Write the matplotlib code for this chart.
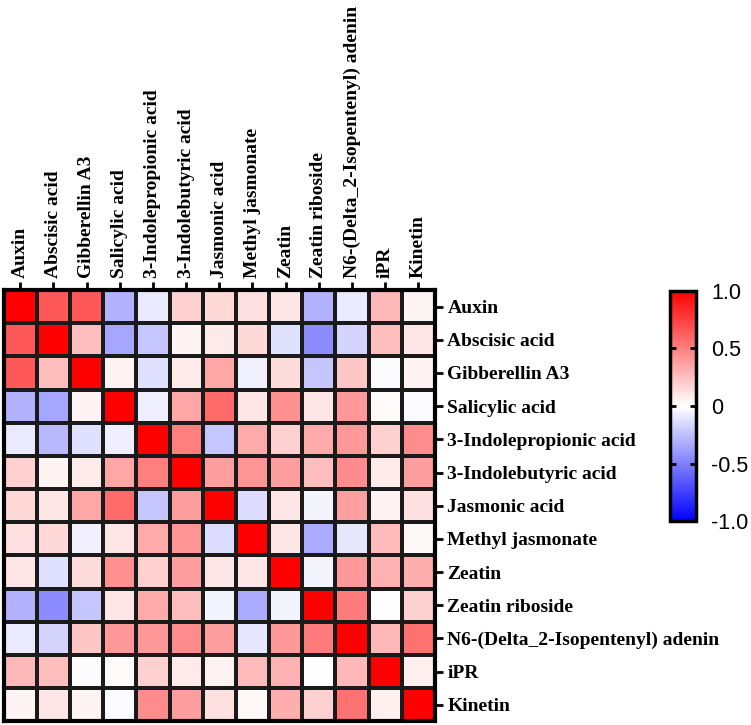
import numpy as np
import matplotlib
matplotlib.use("Agg")
import matplotlib.pyplot as plt
from matplotlib.colors import LinearSegmentedColormap

labels = ["Auxin", "Abscisic acid", "Gibberellin A3", "Salicylic acid",
          "3-Indolepropionic acid", "3-Indolebutyric acid", "Jasmonic acid",
          "Methyl jasmonate", "Zeatin", "Zeatin riboside",
          "N6-(Delta_2-Isopentenyl) adenin", "iPR", "Kinetin"]

corr = [
    [1.00, 0.65, 0.65, -0.30, -0.08, 0.18, 0.15, 0.12, 0.10, -0.30, -0.08, 0.28, 0.04],
    [0.65, 1.00, 0.25, -0.35, -0.22, 0.04, 0.08, 0.15, -0.12, -0.45, -0.17, 0.25, 0.10],
    [0.65, 0.25, 1.00, 0.05, -0.12, 0.08, 0.35, -0.06, 0.14, -0.22, 0.22, -0.01, 0.04],
    [-0.30, -0.35, 0.05, 1.00, -0.07, 0.35, 0.58, 0.10, 0.43, 0.10, 0.40, 0.02, -0.02],
    [-0.08, -0.28, -0.12, -0.07, 1.00, 0.50, -0.22, 0.33, 0.18, 0.33, 0.40, 0.18, 0.45],
    [0.18, 0.04, 0.08, 0.35, 0.50, 1.00, 0.38, 0.42, 0.38, 0.25, 0.45, 0.08, 0.38],
    [0.15, 0.10, 0.35, 0.58, -0.22, 0.38, 1.00, -0.14, 0.10, -0.04, 0.38, 0.05, 0.12],
    [0.12, 0.15, -0.06, 0.10, 0.33, 0.42, -0.14, 1.00, 0.10, -0.33, -0.10, 0.27, 0.03],
    [0.10, -0.12, 0.14, 0.43, 0.18, 0.38, 0.10, 0.10, 1.00, -0.04, 0.40, 0.30, 0.32],
    [-0.30, -0.45, -0.22, 0.10, 0.33, 0.25, -0.04, -0.33, -0.04, 1.00, 0.52, 0.00, 0.18],
    [-0.08, -0.17, 0.22, 0.40, 0.40, 0.45, 0.38, -0.10, 0.40, 0.52, 1.00, 0.28, 0.55],
    [0.28, 0.25, -0.01, 0.02, 0.18, 0.08, 0.05, 0.27, 0.30, 0.00, 0.28, 1.00, 0.06],
    [0.04, 0.10, 0.04, -0.02, 0.45, 0.38, 0.12, 0.03, 0.32, 0.18, 0.55, 0.06, 1.00],
]
cbar_ticks = [1.0, 0.5, 0, -0.5, -1.0]
cbar_ticklabels = ["1.0", "0.5", "0", "-0.5", "-1.0"]

data = np.array(corr)
n = len(labels)
cmap = LinearSegmentedColormap.from_list("bwr2", ["#0000FF", "#FFFFFF", "#FF0000"])

fig = plt.figure(figsize=(7.51, 7.25), dpi=100)
ax = fig.add_axes([0.005, 0.005, 0.574, 0.595])
mesh = ax.pcolormesh(np.arange(n + 1), np.arange(n + 1), data, cmap=cmap,
                     vmin=-1, vmax=1, edgecolors="#1a1a1a", linewidth=1.5)
ax.set_xlim(0, n)
ax.set_ylim(n, 0)
ax.set_xticks(np.arange(n) + 0.5)
ax.set_yticks(np.arange(n) + 0.5)
ax.xaxis.tick_top()
ax.yaxis.tick_right()
font = dict(family="Liberation Serif", weight="bold", size=14)
ax.set_xticklabels(labels, rotation=90, fontdict=font)
ax.set_yticklabels(labels, fontdict=font)
ax.tick_params(axis="both", direction="out", length=6, width=2, pad=3, color="black")
for s in ax.spines.values():
    s.set_linewidth(3)

cax = fig.add_axes([0.892, 0.281, 0.035, 0.318])
cb = fig.colorbar(mesh, cax=cax)
cb.set_ticks(cbar_ticks)
cb.set_ticklabels(cbar_ticklabels)
cb.outline.set_linewidth(2.5)
cax.tick_params(axis="y", which="both", direction="in", length=4, width=2,
                labelsize=15.5, pad=11, left=True, right=True)
for t in cax.get_yticklabels():
    t.set_family("Liberation Sans")

fig.savefig("out.png", dpi=100)
